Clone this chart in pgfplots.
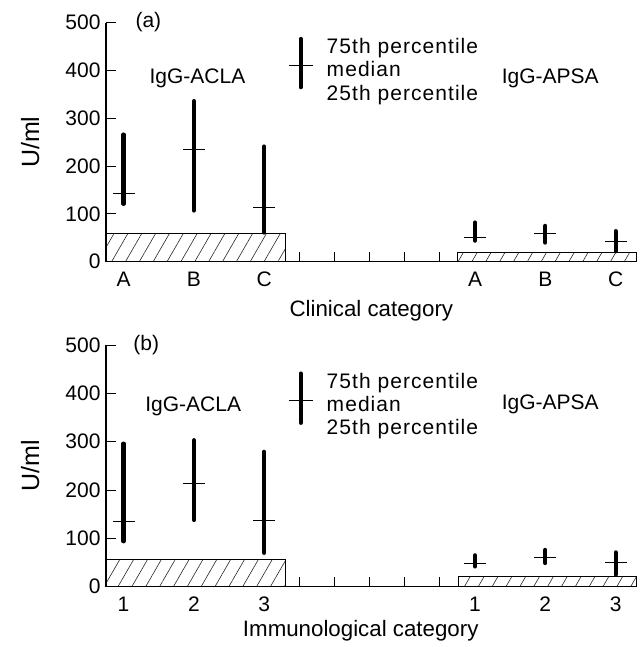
\documentclass[border=0pt]{standalone}
\usepackage{pgfplots}
\pgfplotsset{compat=1.18}
\usepackage{fontspec}
\setmainfont{Liberation Sans}
\usetikzlibrary{patterns.meta}

% shared look of both panels
\pgfplotsset{
  panel/.style={
    anchor=south west, scale only axis, width=530.7pt,
    xmin=0.75, xmax=8.3, ymin=0, ymax=500,
    axis x line=bottom, axis y line=left,
    axis line style={-, line width=1.2pt},
    tick align=inside, major tick length=10pt,
    tick style={black, line width=0.9pt},
    ytick={0,100,...,500},
    xtick={3.5,4,4.5,5,5.5}, xticklabels={,,,,},
    extra x ticks={1,2,3,6,7,8},
    extra x tick style={tick style={draw=none}},
    font=\fontsize{21}{23.3}\selectfont,
    tick label style={font=\fontsize{21}{23.3}\selectfont},
    /pgf/number format/assume math mode=true,
    yticklabel style={xshift=-2pt},
    xticklabel style={anchor=base, yshift=-25pt},
    clip=false,
  },
  hatch/.style={draw=black, line width=0.8pt,
    pattern={Lines[angle=60, distance=12pt, line width=0.6pt]}, pattern color=black!85},
  iqr/.style={black, line width=4.2pt, line cap=round},
  med/.style={only marks, mark=-, mark size=11pt, mark options={line width=0.9pt, black}},
}
\tikzset{
  keytext/.style={anchor=base west, font=\fontsize{21}{23.3}\selectfont\addfontfeature{LetterSpace=5}},
  xlab/.style={anchor=base, font=\fontsize{22.3}{25}\selectfont},
  ylab/.style={rotate=90, font=\fontsize{25}{28}\selectfont},
}

\begin{document}
\begin{tikzpicture}
\useasboundingbox (0,0) rectangle (644pt,-647pt);

% ---------- (a) clinical category ----------
\begin{axis}[panel, at={(106pt,-261.7pt)}, height=239pt,
  extra x tick labels={A,B,C,A,B,C}]
  \addplot[hatch] coordinates {(0.75,0)(0.75,59)(3.3,59)(3.3,0)} \closedcycle;
  \addplot[hatch] coordinates {(5.75,0)(5.75,20)(8.3,20)(8.3,0)} \closedcycle;
  % IgG-ACLA
  \addplot[iqr] coordinates {(1,121)(1,266)};
  \addplot[iqr] coordinates {(2,107)(2,336)};
  \addplot[iqr] coordinates {(3,61)(3,241)};
  \addplot[med] coordinates {(1,143)(2,234)(3,114)};
  % IgG-APSA
  \addplot[iqr] coordinates {(6,44)(6,82)};
  \addplot[iqr] coordinates {(7,40)(7,75)};
  \addplot[iqr] coordinates {(8,22)(8,64)};
  \addplot[med] coordinates {(6,50)(7,59)(8,43)};
  % key
  \addplot[iqr] coordinates {(3.52,365)(3.52,466)};
  \addplot[med, mark size=12pt] coordinates {(3.52,410)};
  \node[keytext] at (axis cs:3.84,436) {75th percentile};
  \node[keytext] at (axis cs:3.84,387) {median};
  \node[keytext] at (axis cs:3.84,338) {25th percentile};
  \node[anchor=base west] at (axis cs:1.32,373) {IgG-ACLA};
  \node[anchor=base west] at (axis cs:6.33,373) {IgG-APSA};
  \node[anchor=base west] at (axis cs:1.12,489) {(a)};
  \node[xlab] at (rel axis cs:0.5,-0.23) {Clinical category};
  \node[ylab] at (rel axis cs:-0.143,0.5) {U/ml};
\end{axis}

% ---------- (b) immunological category ----------
\begin{axis}[panel, at={(106pt,-586.7pt)}, height=241.7pt,
  extra x tick labels={1,2,3,1,2,3}]
  \addplot[hatch] coordinates {(0.75,0)(0.75,57)(3.3,57)(3.3,0)} \closedcycle;
  \addplot[hatch] coordinates {(5.77,0)(5.77,22)(8.3,22)(8.3,0)} \closedcycle;
  % IgG-ACLA
  \addplot[iqr] coordinates {(1,94)(1,296)};
  \addplot[iqr] coordinates {(2,138)(2,303)};
  \addplot[iqr] coordinates {(3,70)(3,279)};
  \addplot[med] coordinates {(1,135)(2,214)(3,138)};
  % IgG-APSA
  \addplot[iqr] coordinates {(6,42)(6,65)};
  \addplot[iqr] coordinates {(7,49)(7,76)};
  \addplot[iqr] coordinates {(8,25)(8,71)};
  \addplot[med] coordinates {(6,48)(7,61)(8,50)};
  % key
  \addplot[iqr] coordinates {(3.52,339)(3.52,441)};
  \addplot[med, mark size=12pt] coordinates {(3.52,385)};
  \node[keytext] at (axis cs:3.84,411) {75th percentile};
  \node[keytext] at (axis cs:3.84,362) {median};
  \node[keytext] at (axis cs:3.84,314) {25th percentile};
  \node[anchor=base west] at (axis cs:1.26,362) {IgG-ACLA};
  \node[anchor=base west] at (axis cs:6.33,366) {IgG-APSA};
  \node[anchor=base west] at (axis cs:1.09,488) {(b)};
  \node[xlab] at (rel axis cs:0.48,-0.207) {Immunological category};
  \node[ylab] at (rel axis cs:-0.143,0.5) {U/ml};
\end{axis}
\end{tikzpicture}
\end{document}
